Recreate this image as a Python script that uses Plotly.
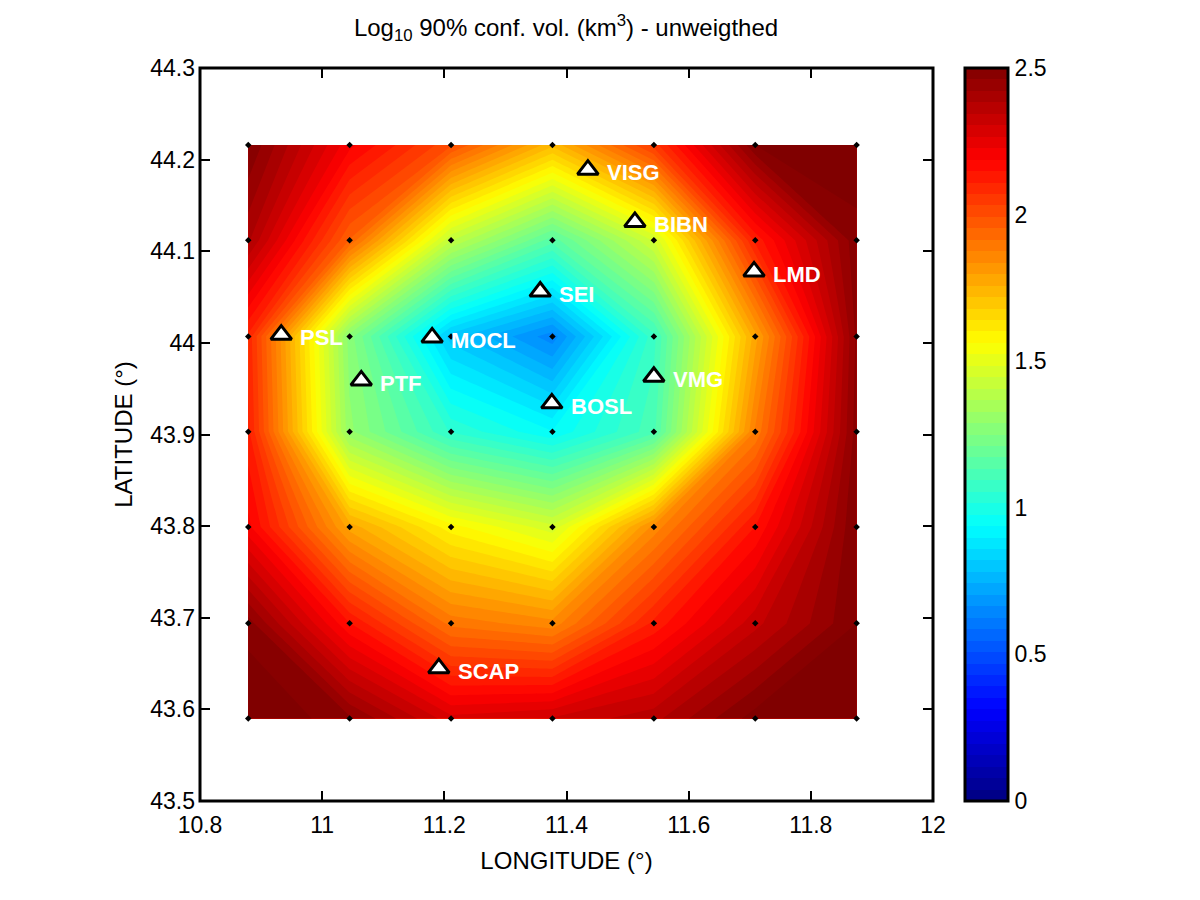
import plotly.graph_objects as go

lon = [10.879, 11.045, 11.211, 11.377, 11.543, 11.709, 11.875]
lat = [44.216, 44.112, 44.007, 43.903, 43.799, 43.694, 43.59]
log_vol = [
    [2.50, 2.20, 2.00, 1.73, 2.05, 2.50, 2.52],
    [2.39, 1.95, 1.41, 1.15, 1.45, 2.12, 2.49],
    [2.10, 1.27, 0.80, 0.64, 1.08, 1.78, 2.47],
    [2.12, 1.30, 1.05, 0.94, 1.12, 1.88, 2.48],
    [2.20, 1.78, 1.58, 1.46, 1.85, 2.15, 2.50],
    [2.48, 2.15, 1.90, 1.85, 2.12, 2.33, 2.50],
    [2.55, 2.47, 2.28, 2.31, 2.37, 2.52, 2.60],
]
stations = ["PSL", "PTF", "MOCL", "SEI", "BOSL", "VMG", "VISG", "BIBN", "LMD", "SCAP"]
sta_lon = [10.933, 11.064, 11.180, 11.357, 11.376, 11.543, 11.435, 11.512, 11.707, 11.191]
sta_lat = [44.009, 43.959, 44.006, 44.056, 43.934, 43.963, 44.189, 44.132, 44.078, 43.645]
x_ticks = [10.8, 11, 11.2, 11.4, 11.6, 11.8, 12]
x_labels = ["10.8", "11", "11.2", "11.4", "11.6", "11.8", "12"]
y_ticks = [43.5, 43.6, 43.7, 43.8, 43.9, 44, 44.1, 44.2, 44.3]
y_labels = ["43.5", "43.6", "43.7", "43.8", "43.9", "44", "44.1", "44.2", "44.3"]
cb_ticks = [0, 0.5, 1, 1.5, 2, 2.5]
cb_labels = ["0", "0.5", "1", "1.5", "2", "2.5"]
jet = [
    [0, "rgb(0,0,128)"], [0.125, "rgb(0,0,255)"], [0.375, "rgb(0,255,255)"],
    [0.625, "rgb(255,255,0)"], [0.875, "rgb(255,0,0)"], [1, "rgb(128,0,0)"],
]

FONT = "Liberation Sans"
L, T, W, H = 200, 68, 733, 733
CB_X, CB_W = 965, 43

fig = go.Figure()
fig.add_trace(go.Contour(
    x=lon, y=lat, z=log_vol, colorscale=jet, zmin=0, zmax=2.5,
    autocontour=False,
    contours=dict(start=0, end=2.5, size=2.5 / 64, coloring="fill", showlines=False),
    line=dict(width=0, smoothing=0), hoverinfo="skip",
    colorbar=dict(
        x=(CB_X - L) / W, xanchor="left", xpad=0, ypad=0, y=0.5, yanchor="middle",
        len=1, thickness=CB_W, thicknessmode="pixels",
        outlinewidth=3, outlinecolor="black", borderwidth=0,
        tickvals=cb_ticks, ticktext=cb_labels, ticks="", ticklen=0,
        tickfont=dict(family=FONT, size=23, color="black"),
    ),
))
fig.add_trace(go.Scatter(
    x=[v for _ in lat for v in lon], y=[v for v in lat for _ in lon],
    mode="markers", marker=dict(symbol="diamond", size=5, color="black"),
    hoverinfo="skip", showlegend=False, cliponaxis=False,
))
fig.add_trace(go.Scatter(
    x=sta_lon, y=sta_lat, mode="markers",
    marker=dict(symbol="triangle-up", size=18, color="white",
                line=dict(color="black", width=3)),
    showlegend=False, hoverinfo="skip",
))
for name, xv, yv in zip(stations, sta_lon, sta_lat):
    fig.add_annotation(
        x=xv, y=yv, text=f"<b>{name}</b>", showarrow=False, xanchor="left",
        xshift=17, yshift=-3, font=dict(family=FONT, size=22, color="white"),
    )
fig.add_shape(type="rect", xref="paper", yref="paper", x0=0, x1=1, y0=0, y1=1,
              line=dict(color="black", width=3), layer="above")
for v in cb_ticks[1:-1]:
    yp = v / 2.5
    for x0, x1 in ((CB_X, CB_X + 8), (CB_X + CB_W - 8, CB_X + CB_W)):
        fig.add_shape(type="line", xref="paper", yref="paper",
                      x0=(x0 - L) / W, x1=(x1 - L) / W,
                      y0=yp, y1=yp, line=dict(color="black", width=2))

axis = dict(
    showgrid=False, zeroline=False, showline=False,
    mirror="ticks", ticks="inside", ticklen=10, tickwidth=2, tickcolor="black",
    tickfont=dict(family=FONT, size=23, color="black"),
)
fig.update_layout(
    width=1200, height=900, autosize=False,
    paper_bgcolor="white", plot_bgcolor="white",
    margin=dict(l=L, r=1200 - L - W, t=T, b=900 - T - H, pad=0),
    title=dict(
        text="Log<sub>10</sub> 90% conf. vol. (km<sup>3</sup>) - unweigthed",
        x=(352 + 780) / 2 / 1200, xanchor="center", y=1 - 28 / 900, yanchor="middle",
        font=dict(family=FONT, size=24, color="black"),
    ),
    xaxis=dict(axis, range=[10.8, 12], tickvals=x_ticks, ticktext=x_labels,
               ticklabelstandoff=8,
               title=dict(text="LONGITUDE (°)", standoff=15,
                          font=dict(family=FONT, size=24, color="black"))),
    yaxis=dict(axis, range=[43.5, 44.3], tickvals=y_ticks, ticktext=y_labels,
               ticklabelstandoff=4,
               title=dict(text="LATITUDE (°)", standoff=10,
                          font=dict(family=FONT, size=24, color="black"))),
    showlegend=False,
)
fig.write_html("out.html", config={"displayModeBar": False},
               post_script="document.body.style.margin='0';")
